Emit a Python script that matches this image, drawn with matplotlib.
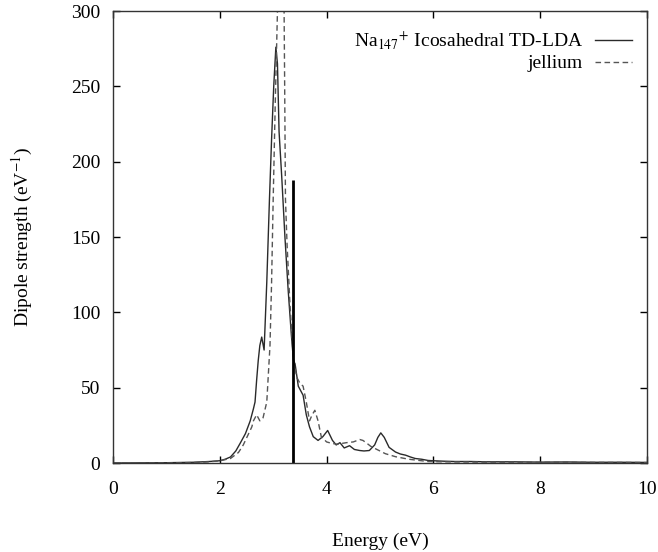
import matplotlib
matplotlib.use("Agg")
import matplotlib.pyplot as plt

# TD-LDA (solid) spectrum
tdlda_x = [0, 0.5, 1.0, 1.5, 1.8, 2.0, 2.1, 2.2, 2.3, 2.38, 2.48, 2.57, 2.63, 2.66,
           2.69, 2.72, 2.75, 2.785, 2.83, 2.88, 2.93, 2.97, 3.01, 3.05, 3.08, 3.11,
           3.16, 3.22, 3.28, 3.34, 3.38, 3.41, 3.47, 3.56, 3.62, 3.68, 3.75, 3.84,
           3.93, 4.02, 4.11, 4.18, 4.25, 4.33, 4.43, 4.52, 4.62, 4.7, 4.8, 4.9, 4.96,
           5.015, 5.08, 5.17, 5.29, 5.38, 5.48, 5.57, 5.66, 5.78, 5.9, 6.0, 6.2, 6.4,
           6.7, 7.0, 7.5, 8.0, 8.5, 9.0, 9.5, 10.0]
tdlda_y = [0, 0.1, 0.2, 0.5, 1.0, 1.5, 2.5, 4, 8, 13, 19.5, 28, 36, 40.5,
           55, 68, 78, 83.6, 75, 120, 175, 215, 250, 276, 265, 220,
           190, 150, 115, 85, 68, 65.8, 51, 45, 32, 24, 17.5, 15,
           17.5, 21.6, 15, 12, 13.5, 10, 11.5, 9, 8.3, 8, 8.3, 12, 17,
           20, 17, 10.4, 7.3, 6, 5.2, 4, 3, 2.5, 1.7, 1.5, 1.2, 1,
           1, 0.8, 0.8, 0.6, 0.7, 0.5, 0.5, 0.4]

# jellium (dashed) spectrum
jell_x = [0, 1.0, 1.5, 1.8, 2.0, 2.2, 2.35, 2.44, 2.54, 2.6, 2.63, 2.69, 2.75, 2.81,
          2.88, 2.94, 2.97, 3.0, 3.04, 3.08, 3.12, 3.16, 3.2, 3.215, 3.23, 3.26,
          3.31, 3.376, 3.44, 3.5, 3.56, 3.62, 3.68, 3.73, 3.78, 3.84, 3.9, 4.0,
          4.1, 4.2, 4.37, 4.5, 4.62, 4.68, 4.74, 4.83, 4.92, 5.1, 5.29, 5.54, 5.9,
          6.2, 6.5, 7.0, 7.5, 8.0, 8.5, 9.0, 9.5, 10.0]
jell_y = [0, 0.1, 0.3, 0.8, 1.5, 3, 7, 12, 19.5, 24, 28, 32, 28, 30,
          40.5, 78, 120, 175, 241, 300, 330, 340, 320, 250, 175, 145,
          108, 70, 57, 53, 51, 40.5, 28, 32, 35, 28, 17.5, 14,
          13, 12.5, 13.5, 14, 15.6, 15, 13.5, 11, 9.4, 6.2, 4.2, 2.5, 1,
          0.8, 0.7, 0.6, 0.6, 0.5, 0.5, 0.4, 0.4, 0.3]

# single vertical stick
stick_x = 3.376
stick_h = 188

x_ticks = [0, 2, 4, 6, 8, 10]
y_ticks = [0, 50, 100, 150, 200, 250, 300]

plt.rcParams['font.family'] = ['Liberation Serif', 'DejaVu Serif']
plt.rcParams['mathtext.fontset'] = 'stix'

fig = plt.figure(figsize=(6.58, 5.52), dpi=100)
ax = fig.add_axes([0.1717, 0.1612, 0.8116, 0.8188])

ax.plot(tdlda_x, tdlda_y, color='#2a2a2a', lw=1.0,
        label=r'Na$_{147}$$^{+}$ Icosahedral TD-LDA')
ax.plot(jell_x, jell_y, color='#555555', lw=1.0, dashes=(4, 2.5), label='jellium')
ax.vlines(stick_x, 0, stick_h, color='black', lw=2.0)

ax.set_xlim(0, 10)
ax.set_ylim(0, 300)
ax.set_xticks(x_ticks)
ax.set_yticks(y_ticks)
ax.tick_params(direction='in', top=True, right=True, length=5, width=1,
               labelsize=14)
ax.tick_params(axis='x', pad=13)
ax.tick_params(axis='y', pad=9)
for sp in ax.spines.values():
    sp.set_linewidth(1.0)
    sp.set_color('#333333')

ax.set_xlabel('Energy (eV)', fontsize=14, labelpad=25)
ax.set_ylabel(r'Dipole strength (eV$^{-1}$)', fontsize=14, labelpad=26)

ax.legend(loc='upper right', frameon=False, markerfirst=False, fontsize=14,
          handlelength=1.9, handletextpad=0.6, labelspacing=0.15,
          borderaxespad=0.55, bbox_to_anchor=(1.006, 1.0))

fig.savefig('out.png', dpi=100)
